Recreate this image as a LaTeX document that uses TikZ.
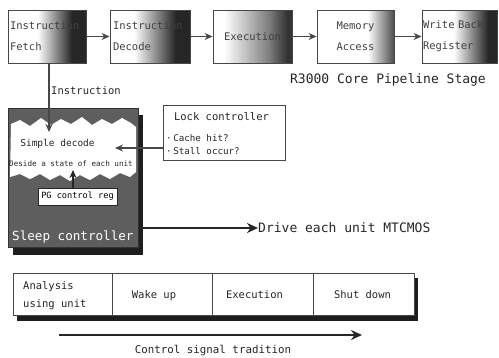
\documentclass[tikz,border=0pt]{standalone}
\usepackage{fontspec}
\newfontfamily\mono{DejaVu Sans Mono}
\usetikzlibrary{arrows.meta}
\definecolor{ln}{HTML}{474747}
\definecolor{sleepgray}{HTML}{5E5E5E}
\definecolor{shadowc}{HTML}{1E1E1E}
\pgfdeclarehorizontalshading{shfetch}{100bp}{color(0bp)=(white); color(44bp)=(white); color(66bp)=(black!85); color(100bp)=(black!85)}
\pgfdeclarehorizontalshading{shdecode}{100bp}{color(0bp)=(white); color(40bp)=(white); color(66bp)=(black!85); color(100bp)=(black!85)}
\pgfdeclarehorizontalshading{shexec}{100bp}{color(0bp)=(white); color(32bp)=(white); color(60bp)=(black!50); color(72bp)=(black!80); color(100bp)=(black!80)}
\pgfdeclarehorizontalshading{shmem}{100bp}{color(0bp)=(white); color(58bp)=(white); color(75bp)=(black!70); color(100bp)=(black!70)}
\pgfdeclarehorizontalshading{shwb}{100bp}{color(0bp)=(white); color(46bp)=(white); color(69bp)=(black!85); color(100bp)=(black!85)}
\tikzset{
  stage/.style={draw=ln, line width=0.9pt, shade, minimum height=53pt, inner sep=2pt, text=black!75,
    font=\mono\fontsize{10.5}{21}\selectfont},
  arr/.style={draw=ln, line width=1.1pt, -{Stealth[length=8pt,width=7pt]}},
  bigarr/.style={draw=black!85, line width=2.4pt, -{Stealth[length=11pt,width=10pt]}},
  wbox/.style={draw=ln, line width=0.9pt, fill=white, inner sep=0pt},
  cell/.style={draw=ln, line width=0.9pt, fill=white, minimum height=42pt, inner sep=0pt},
  txt/.style={inner sep=0pt, text=black!85},
}
\begin{document}
\begin{tikzpicture}[x=1pt,y=-1pt,font=\mono]
\useasboundingbox[fill=white] (0,0) rectangle (499,357);
% pipeline stages
\node[stage, shading=shfetch, minimum width=78pt, text width=74pt, align=left] (fetch) at (47,36.5) {Instruction\\Fetch};
\node[stage, shading=shdecode, minimum width=80pt, text width=74pt, align=left] (decode) at (150,36.5) {Instruction\\Decode};
\node[stage, shading=shexec, minimum width=79pt, align=center] (exec) at (252.5,36.5) {Execution};
\node[stage, shading=shmem, minimum width=77pt, text width=73pt, align=center] (mem) at (355.5,36.5) {Memory\\Access};
\node[stage, shading=shwb, minimum width=75pt, text width=73pt, align=left, inner sep=1pt] (wb) at (459.5,36.5) {Write Back\\Register};
\draw[arr] (fetch) -- (decode);
\draw[arr] (decode) -- (exec);
\draw[arr] (exec) -- (mem);
\draw[arr] (mem) -- (wb);
\node[txt, anchor=base, font=\mono\fontsize{13}{15}\selectfont] (r3000) at (388,83) {R3000 Core Pipeline Stage};
% sleep controller
\fill[shadowc] (13,115) rectangle (143,255);
\node[draw=black!80, line width=0.8pt, fill=sleepgray, minimum width=130pt, minimum height=139pt, inner sep=0pt] (sleep) at (73,177.5) {};
\fill[white] (11,124) -- (20,120) -- (30,126) -- (41,118) -- (51,125) -- (61,119) -- (71,124) -- (82,117) -- (92,125) -- (102,119) -- (112,124) -- (122,118) -- (131,123) -- (136,127)
  -- (136,172) -- (130,177) -- (120,173) -- (110,179) -- (100,174) -- (90,180) -- (80,175) -- (70,181) -- (60,175) -- (50,180) -- (40,174) -- (30,179) -- (20,174) -- (10,177) -- cycle;
\node[txt, anchor=base, font=\mono\fontsize{9.5}{11}\selectfont] (simple) at (57.5,146) {Simple decode};
\node[txt, anchor=base, font=\mono\fontsize{7.6}{9}\selectfont] (deside) at (71,166) {Deside a state of each unit};
\node[wbox, draw=black!85, minimum width=79pt, minimum height=17pt, font=\mono\fontsize{8.6}{10}\selectfont] (pg) at (77.5,196.5) {PG control reg};
\coordinate (pa) at (73,170);
\draw[arr, draw=black!85] (pg.north -| pa) -- (pa);
\node[txt, anchor=base west, text=white, font=\mono\fontsize{12.6}{14}\selectfont] (sleeplbl) at (12,240) {Sleep controller};
% instruction path
\coordinate (ia) at (49,132);
\draw[arr] (fetch.south -| ia) -- (ia);
\node[txt, anchor=base west, font=\mono\fontsize{10.5}{12}\selectfont] (instr) at (51,94) {Instruction};
% lock controller
\node[wbox, minimum width=122pt, minimum height=55pt] (lock) at (224,132.5) {};
\node[txt, anchor=base, font=\mono\fontsize{10.5}{12}\selectfont] (locktitle) at (221.5,120) {Lock controller};
\node[txt, anchor=base west, font=\mono\fontsize{9.2}{11}\selectfont] (hit) at (166,141) {·\,Cache hit?};
\node[txt, anchor=base west, font=\mono\fontsize{9.2}{11}\selectfont] (stall) at (166,154) {·\,Stall occur?};
\coordinate (la) at (115,148);
\draw[arr] (lock.west |- la) -- (la);
% drive
\node[txt, anchor=west, font=\mono\fontsize{13}{15}\selectfont] (drive) at (258,228) {Drive each unit MTCMOS};
\draw[bigarr] (sleep.east |- drive.west) -- (drive.west);
% bottom sequence
\fill[shadowc] (17,278) rectangle (418,321);
\node[cell, minimum width=99pt] (c1) at (62.5,294) {};
\node[cell, minimum width=100pt] (c2) at (162,294) {};
\node[cell, minimum width=101pt] (c3) at (262.5,294) {};
\node[cell, minimum width=101pt] (c4) at (363.5,294) {};
\node[txt, anchor=base west, font=\mono\fontsize{10.5}{12}\selectfont] (t1a) at (23,289) {Analysis};
\node[txt, anchor=base west, font=\mono\fontsize{10.5}{12}\selectfont] (t1b) at (23,307) {using unit};
\node[txt, anchor=base, font=\mono\fontsize{10.5}{12}\selectfont] (t2) at (154,298) {Wake up};
\node[txt, anchor=base, font=\mono\fontsize{10.5}{12}\selectfont] (t3) at (254.5,298) {Execution};
\node[txt, anchor=base, font=\mono\fontsize{10.5}{12}\selectfont] (t4) at (362.5,298) {Shut down};
\coordinate (ca) at (59,335);
\coordinate (cb) at (362,335);
\draw[bigarr] (ca) -- (cb);
\node[txt, anchor=base, font=\mono\fontsize{10.8}{12}\selectfont] (ctl) at (213,353) {Control signal tradition};
\end{tikzpicture}
\end{document}
